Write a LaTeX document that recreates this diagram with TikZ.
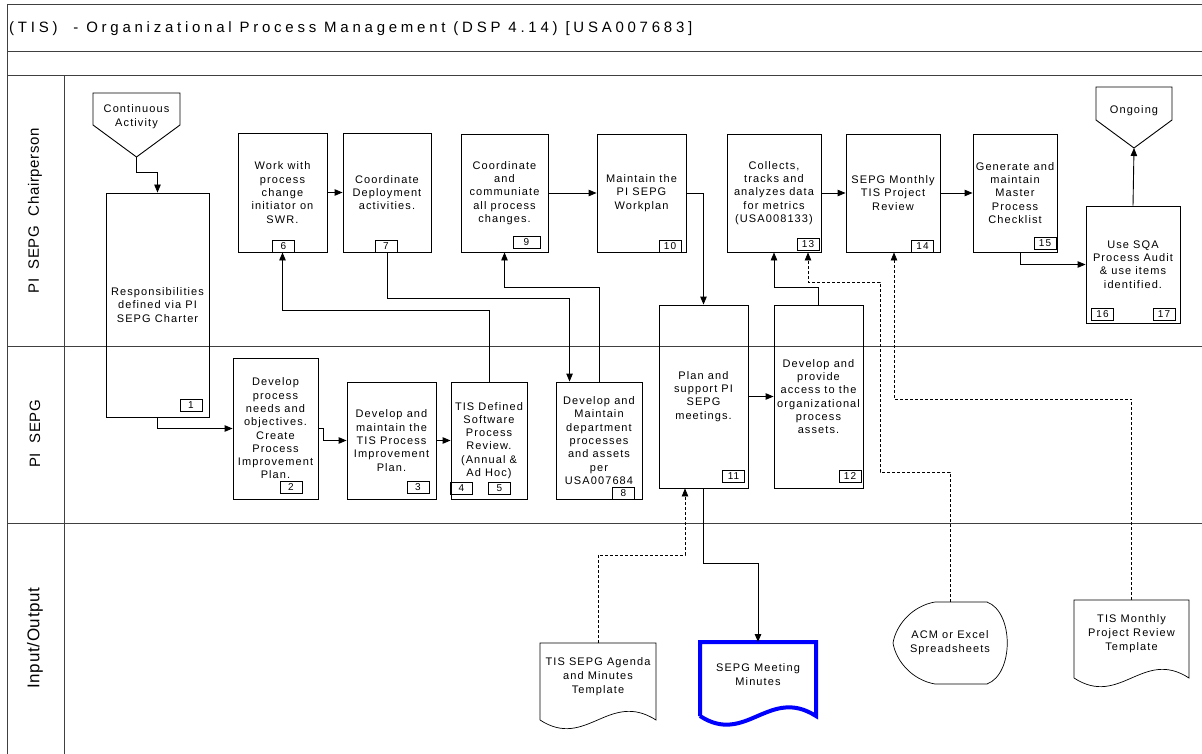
\documentclass[tikz,border=0pt]{standalone}
\usepackage{fontspec}
\setmainfont{Liberation Sans}
\newfontfamily\procfont[LetterSpace=10]{Liberation Sans}
\newfontfamily\titlefont[LetterSpace=25]{Liberation Sans}
\newfontfamily\lanefont[LetterSpace=4]{Liberation Sans}
\definecolor{flowblue}{RGB}{0,0,255}
\definecolor{framegray}{RGB}{64,64,64}
\usetikzlibrary{arrows.meta,positioning,calc}

\begin{document}
\begin{tikzpicture}[x=1pt,y=-1pt,
  procbox/.style={draw,line width=0.9pt,align=center,inner sep=0pt,font=\procfont\fontsize{11}{13.3}\selectfont},
  tag/.style={draw,line width=0.8pt,minimum width=22,minimum height=12,inner sep=0pt,font=\procfont\fontsize{10}{10}\selectfont},
  doctext/.style={align=center,inner sep=0pt,font=\procfont\fontsize{11}{14}\selectfont},
  flow/.style={line width=0.9pt,-{Triangle[length=8pt,width=6.5pt]}},
  dflow/.style={flow,line width=0.7pt,dash pattern=on 3pt off 2pt},
  lane/.style={framegray,line width=1pt},
  lanetext/.style={rotate=90,font=\lanefont\fontsize{15}{17}\selectfont}]
  \useasboundingbox (0,0) rectangle (1202,754);
  % frame and lanes
  \draw[lane] (7,5) -- (1202,5);
  \draw[lane] (7,52) -- (1202,52);
  \draw[lane] (7,76) -- (1202,76);
  \draw[lane] (7,346) -- (1202,346);
  \draw[lane] (7,523) -- (1202,523);
  \draw[lane] (7,5) -- (7,754);
  \draw[lane] (64,76) -- (64,754);
  \node[anchor=west,inner sep=0pt,font=\titlefont\fontsize{15}{17}\selectfont] (title) at (9,29) {(TIS)\ \ - Organizational Process Management (DSP 4.14) [USA007683]};
  \node[lanetext] (lchair) at (35,211) {PI\ \ SEPG\ \ Chairperson};
  \node[lanetext] (lsepg) at (35,434) {PI\ \ SEPG};
  \node[lanetext,font=\lanefont\fontsize{17}{19}\selectfont] (lio) at (35,638) {Input/Output};

  % start and end connectors
  \draw[line width=0.9pt] (93,93) -- (180,93) -- (180,125) -- (136.5,157) -- (93,125) -- cycle;
  \node[doctext] (cont) at (136.5,117) {Continuous\\Activity};
  \coordinate (conttip) at (136.5,157);
  \draw[line width=0.9pt] (1096,87) -- (1172,87) -- (1172,120) -- (1134,148) -- (1096,120) -- cycle;
  \node[doctext] (ongoing) at (1134,111) {Ongoing};
  \coordinate (ongoingtip) at (1134,148);

  % PI SEPG Chairperson lane
  \node[procbox,minimum width=103,minimum height=224] (b1) at (157.5,305) {Responsibilities\\defined via PI\\SEPG Charter};
  \node[procbox,minimum width=89,minimum height=119] (b6) at (282.5,192.5) {Work with\\process\\change\\initiator on\\SWR.};
  \node[procbox,minimum width=88,minimum height=119] (b7) at (387,192.5) {Coordinate\\Deployment\\activities.};
  \node[procbox,minimum width=87,minimum height=118] (b9) at (504.5,193) {Coordinate\\and\\communiate\\all process\\changes.};
  \node[procbox,minimum width=89,minimum height=118] (b10) at (641.5,193) {Maintain the\\PI SEPG\\Workplan};
  \node[procbox,minimum width=94,minimum height=118] (b13) at (774,193) {Collects,\\tracks and\\analyzes data\\for metrics\\(USA008133)};
  \node[procbox,minimum width=94,minimum height=118] (b14) at (893,193) {SEPG Monthly\\TIS Project\\Review};
  \node[procbox,minimum width=84,minimum height=118] (b15) at (1015,193) {Generate and\\maintain\\Master\\Process\\Checklist};
  \node[procbox,minimum width=94,minimum height=117] (b16) at (1133,264.5) {Use SQA\\Process Audit\\\& use items\\identified.};

  % PI SEPG lane
  \node[procbox,minimum width=85,minimum height=141] (b2) at (275.5,428.5) {Develop\\process\\needs and\\objectives.\\Create\\Process\\Improvement\\Plan.};
  \node[procbox,minimum width=89,minimum height=117] (b3) at (391.5,440.5) {Develop and\\maintain the\\TIS Process\\Improvement\\Plan.};
  \node[procbox,minimum width=76,minimum height=117] (b45) at (489,440.5) {TIS Defined\\Software\\Process\\Review.\\(Annual \&\\Ad Hoc)};
  \node[procbox,minimum width=86,minimum height=117] (b8) at (599,440.5) {Develop and\\Maintain\\department\\processes\\and assets\\per\\USA007684};
  \node[procbox,minimum width=89,minimum height=183] (b11) at (703.5,396.5) {Plan and\\support PI\\SEPG\\meetings.};
  \node[procbox,minimum width=89,minimum height=183] (b12) at (818.5,396.5) {Develop and\\provide\\access to the\\organizational\\process\\assets.};

  % step numbers
  \node[tag] (t1) at (191,405) {1};
  \node[tag] (t2) at (291,487.5) {2};
  \node[tag] (t3) at (418,487.5) {3};
  \node[tag] (t4) at (461.5,488) {4};
  \node[tag] (t5) at (499.5,488) {5};
  \node[tag] (t6) at (283.5,246) {6};
  \node[tag] (t7) at (386,246) {7};
  \node[tag] (t8) at (623.5,493) {8};
  \node[tag,minimum width=27] (t9) at (526.5,242) {9};
  \node[tag] (t10) at (670,246.5) {10};
  \node[tag] (t11) at (733.5,476) {11};
  \node[tag] (t12) at (850,476) {12};
  \node[tag] (t13) at (808,244) {13};
  \node[tag] (t14) at (922.5,246.5) {14};
  \node[tag] (t15) at (1045,243.5) {15};
  \node[tag] (t16) at (1102.5,314) {16};
  \node[tag] (t17) at (1164,314) {17};

  % Input/Output lane
  \draw[line width=0.7pt] (540,720) -- (540,643) -- (656,643) -- (656,720) .. controls (609,690) and (586,750) .. (540,720);
  \node[doctext] (agenda) at (598,677) {TIS SEPG Agenda\\and Minutes\\Template};
  \coordinate (agendatop) at (598,643);
  \draw[flowblue,line width=4pt] (700,716) -- (700,642) -- (816,642) -- (816,716) .. controls (769,686) and (746,746) .. (700,716);
  \node[doctext] (minutes) at (758,674.5) {SEPG Meeting\\Minutes};
  \coordinate (minutestop) at (758,642);
  \draw[line width=0.7pt] (893,643) .. controls (896,625) and (912,606) .. (935,602) -- (987,602)
    .. controls (1014,612) and (1014,674) .. (987,684) -- (935,684) .. controls (912,680) and (896,661) .. cycle;
  \node[doctext] (acm) at (950,642.5) {ACM or Excel\\Spreadsheets};
  \coordinate (acmtop) at (950,602);
  \draw[line width=0.7pt] (1074,678) -- (1074,600) -- (1189,600) -- (1189,678) .. controls (1143,648) and (1120,708) .. (1074,678);
  \node[doctext] (monthly) at (1131.5,634) {TIS Monthly\\Project Review\\Template};
  \coordinate (monthlytop) at (1131.5,600);

  % flow
  \draw[flow] (conttip) -- ++(0,15) -| (b1.north);
  \draw[flow] (b1.south) |- (b2.west);
  \draw[flow] (b2.east) -- ++(5,0) |- (b3.west);
  \draw[flow] (b3) -- (b45);
  \draw[flow] (b45.north) -- ++(0,-71) -| (b6.south);
  \draw[flow] (b6) -- (b7);
  \draw[flow] (b7.south) -- ++(0,46) -| ($(b8.north west)+(14,0)$);
  \draw[flow] (b8.north) -- ++(0,-94) -| (b9.south);
  \draw[flow] (b9) -- (b10);
  \draw[flow] (b10.east) -| (b11.north);
  \draw[flow] (b11) -- (b12);
  \draw[flow] (b12.north) -- ++(0,-17) -| (b13.south);
  \draw[flow] (b13) -- (b14);
  \draw[flow] (b14) -- (b15);
  \draw[flow] ($(b15.south)+(5,0)$) |- (b16.west);
  \draw[flow] (b16.north) -- (ongoingtip);
  \draw[flow] (b11.south) -- ++(0,75) -| (minutestop);
  \draw[dflow] (agendatop) -- ++(0,-88) -| ($(b11.south)+(-18.5,0)$);
  \draw[dflow] (acmtop) -- ++(0,-130) -| (880,282) -| ($(b13.south)+(34,0)$);
  \draw[dflow] (monthlytop) -- ++(0,-201) -| ($(b14.south)+(1,0)$);
\end{tikzpicture}
\end{document}
